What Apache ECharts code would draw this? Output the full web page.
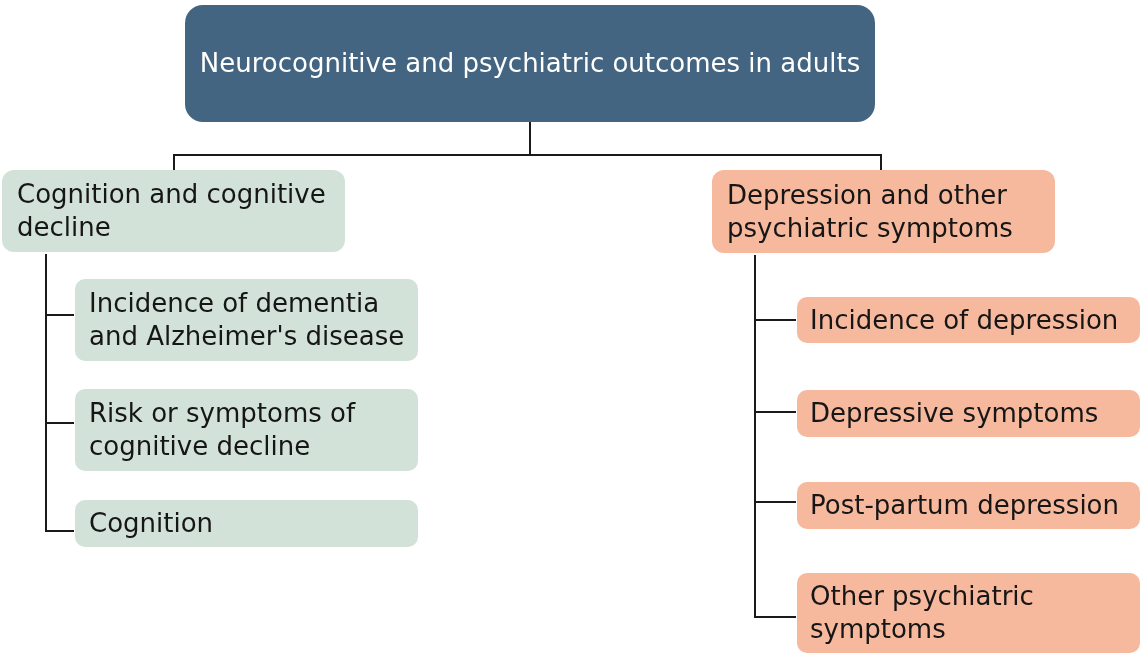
<!DOCTYPE html>
<html>
<head>
<meta charset="utf-8">
<script src="https://cdn.jsdelivr.net/npm/echarts@6/dist/echarts.min.js"></script>
<style>
html,body{margin:0;padding:0;background:#fff;}
#chart{width:1140px;height:656px;}
</style>
</head>
<body>
<div id="chart"></div>
<script>
// ---- content ----
const rootLabel = 'Neurocognitive and psychiatric outcomes in adults';
const branchLabels = ['Cognition and cognitive\ndecline', 'Depression and other\npsychiatric symptoms'];
const cognitionItems = ['Incidence of dementia\nand Alzheimer\'s disease', 'Risk or symptoms of\ncognitive decline', 'Cognition'];
const psychiatricItems = ['Incidence of depression', 'Depressive symptoms', 'Post-partum depression', 'Other psychiatric\nsymptoms'];

// ---- layout (pixel space of the diagram) ----
const rootBox = [185, 5, 875, 122];
const branchBoxes = [[2, 170, 345, 252], [712, 170, 1055, 253]];
const cognitionBoxes = [[75, 279, 418, 361], [75, 389, 418, 471], [75, 500, 418, 547]];
const psychiatricBoxes = [[797, 297, 1140, 343], [797, 390, 1140, 437], [797, 482, 1140, 529], [797, 573, 1140, 653]];
const branchTrunkX = [46, 755];
const rootJoinY = 155;

// ---- styles ----
const COL_ROOT = '#436581';
const COL_GREEN = '#d3e2d9';
const COL_SALMON = '#f7b99d';
const FONT = '26px "DejaVu Sans", Verdana, sans-serif';
const TEXT_DY = 2;

const nodes = [];
nodes.push({ text: rootLabel, box: rootBox, fill: COL_ROOT, color: '#ffffff', align: 'center', r: 18 });
nodes.push({ text: branchLabels[0], box: branchBoxes[0], fill: COL_GREEN, color: '#161616', align: 'left', pad: 15, r: 12 });
nodes.push({ text: branchLabels[1], box: branchBoxes[1], fill: COL_SALMON, color: '#161616', align: 'left', pad: 15, r: 12 });
cognitionItems.forEach((t, i) => nodes.push({ text: t, box: cognitionBoxes[i], fill: COL_GREEN, color: '#161616', align: 'left', pad: 14, r: 10 }));
psychiatricItems.forEach((t, i) => nodes.push({ text: t, box: psychiatricBoxes[i], fill: COL_SALMON, color: '#161616', align: 'left', pad: 13, r: 10 }));

// connectors as polylines
const links = [];
const rootCx = (rootBox[0] + rootBox[2]) / 2;
const b0x = 174, b1x = 881;
links.push([[rootCx, rootBox[3]], [rootCx, rootJoinY]]);
links.push([[b0x, branchBoxes[0][1]], [b0x, rootJoinY], [b1x, rootJoinY], [b1x, branchBoxes[1][1]]]);
function addBranch(trunkX, parentBox, childBoxes, tickYs) {
  links.push([[trunkX, parentBox[3] + 2], [trunkX, tickYs[tickYs.length - 1]], [childBoxes[childBoxes.length - 1][0] - 1, tickYs[tickYs.length - 1]]]);
  childBoxes.forEach((b, i) => links.push([[trunkX, tickYs[i]], [b[0] - 1, tickYs[i]]]));
}
addBranch(branchTrunkX[0], branchBoxes[0], cognitionBoxes, [315, 423, 531]);
addBranch(branchTrunkX[1], branchBoxes[1], psychiatricBoxes, [320, 412, 502, 617]);

const chart = echarts.init(document.getElementById('chart'));
chart.setOption({
  backgroundColor: '#ffffff',
  animation: false,
  grid: { left: 0, right: 0, top: 0, bottom: 0 },
  xAxis: { type: 'value', min: 0, max: 1140, show: false },
  yAxis: { type: 'value', min: 0, max: 656, inverse: true, show: false },
  series: [
    {
      type: 'custom',
      coordinateSystem: 'cartesian2d',
      data: links.map((l, i) => [i]),
      silent: true,
      z: 1,
      renderItem: function (params, api) {
        const pts = links[params.dataIndex].map(p => api.coord(p));
        return { type: 'polyline', shape: { points: pts }, style: { stroke: '#1a1a1a', lineWidth: 2, fill: null, lineJoin: 'miter' } };
      }
    },
    {
      type: 'custom',
      coordinateSystem: 'cartesian2d',
      data: nodes.map((n, i) => [i]),
      silent: true,
      z: 2,
      renderItem: function (params, api) {
        const n = nodes[params.dataIndex];
        const p0 = api.coord([n.box[0], n.box[1]]);
        const p1 = api.coord([n.box[2], n.box[3]]);
        const cy = (p0[1] + p1[1]) / 2 + TEXT_DY;
        const tx = n.align === 'center' ? (p0[0] + p1[0]) / 2 : p0[0] + n.pad;
        return {
          type: 'group',
          children: [
            { type: 'rect', shape: { x: p0[0], y: p0[1], width: p1[0] - p0[0], height: p1[1] - p0[1], r: n.r }, style: { fill: n.fill } },
            { type: 'text', style: { text: n.text, x: tx, y: cy, font: FONT, fill: n.color, align: n.align, verticalAlign: 'middle', lineHeight: 33 } }
          ]
        };
      }
    }
  ]
});
</script>
</body>
</html>
